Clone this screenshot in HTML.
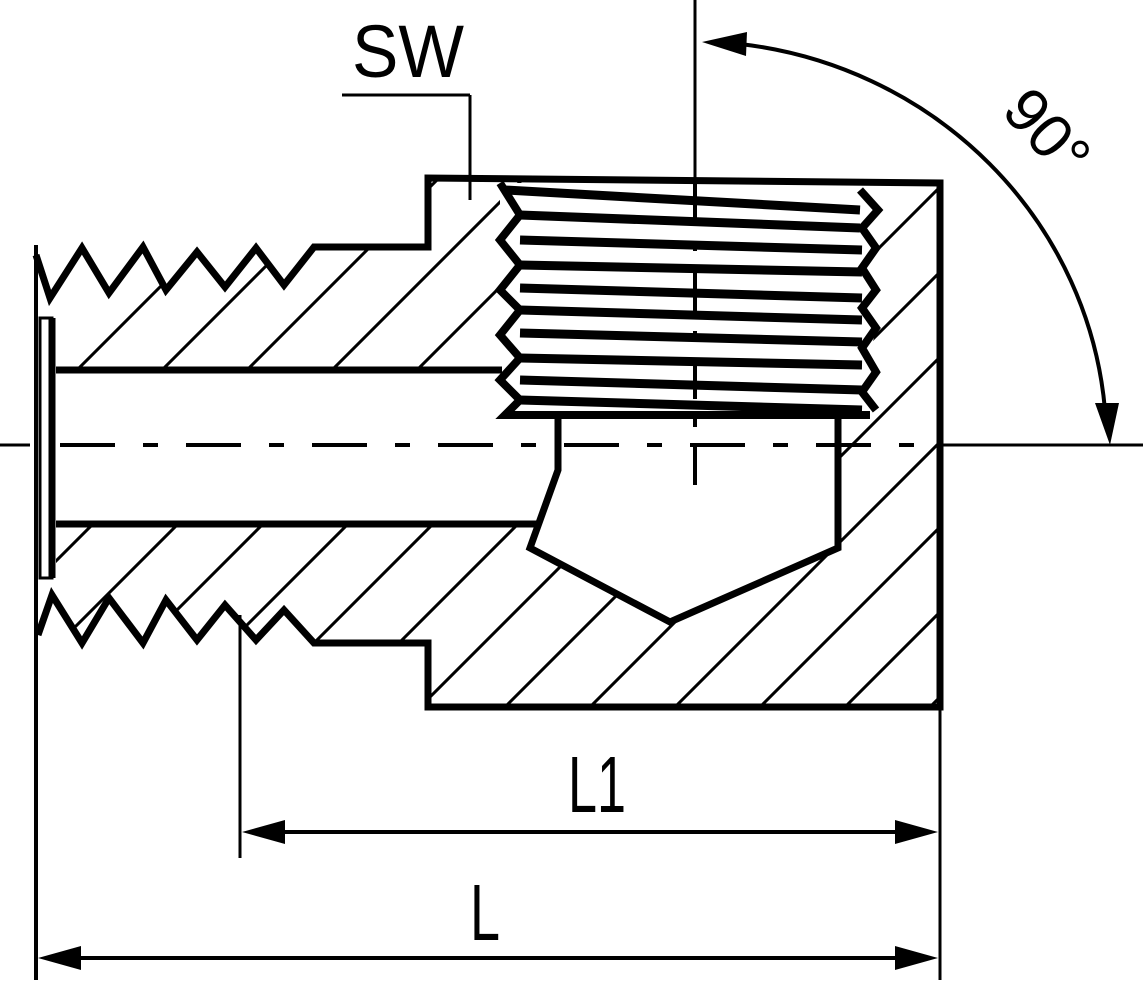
<!DOCTYPE html>
<html><head><meta charset="utf-8"><style>html,body{margin:0;padding:0;background:#fff;width:1143px;height:982px;overflow:hidden}svg{display:block}</style></head>
<body>
<svg width="1143" height="982" viewBox="0 0 1143 982" xmlns="http://www.w3.org/2000/svg">
<defs>
<mask id="m">
<polygon fill="#fff" points="31,245 50,298 82,248 109,293 143,247 166,290 197,252 225,287 256,248 284,285 314,247 428,247 428,178 940,183 940,707 428,707 428,643 314,643 284,610 256,640 225,605 197,640 166,600 143,643 109,598 82,643 52,595 35,640"/>
<rect x="30" y="370" width="530" height="154" fill="#000"/>
<rect x="30" y="300" width="26" height="290" fill="#000"/>
<polygon fill="#000" points="500,183 870,183 878,210 868,240 876,270 868,300 876,330 868,360 876,390 870,415 838,415 838,548 670,622 530,548 558,470 558,415 500,415"/>
</mask>
</defs>
<g mask="url(#m)" stroke="#000" stroke-width="3">
<line x1="0" y1="447" x2="447" y2="0"/><line x1="0" y1="532" x2="532" y2="0"/><line x1="0" y1="617" x2="617" y2="0"/><line x1="0" y1="702" x2="702" y2="0"/><line x1="0" y1="787" x2="787" y2="0"/><line x1="0" y1="872" x2="872" y2="0"/><line x1="0" y1="957" x2="957" y2="0"/><line x1="0" y1="1042" x2="1042" y2="0"/><line x1="0" y1="1127" x2="1127" y2="0"/><line x1="0" y1="1212" x2="1212" y2="0"/><line x1="0" y1="1297" x2="1297" y2="0"/><line x1="0" y1="1382" x2="1382" y2="0"/><line x1="0" y1="1467" x2="1467" y2="0"/><line x1="0" y1="1552" x2="1552" y2="0"/><line x1="0" y1="1637" x2="1637" y2="0"/>
</g>
<g fill="none" stroke="#000" stroke-width="7" stroke-linejoin="miter">
<polyline points="36,255 50,298 82,248 109,293 143,247 166,290 197,252 225,287 256,248 284,285 314,247 428,247 428,178 940,183 940,707 428,707 428,643 314,643 284,610 256,640 225,605 197,640 166,600 143,643 109,598 82,643 52,595 38,635"/>
<line x1="56" y1="370" x2="502" y2="370"/>
<line x1="56" y1="524" x2="540" y2="524"/>
<line x1="52" y1="318" x2="52" y2="578"/>
<polyline points="558,415 558,470 530,548 670,622 838,548 838,415"/>
<polyline points="500,183 520,215 500,240 520,265 500,290 520,310 500,335 520,358 500,380 520,400 505,415 870,415" stroke-width="8"/>
<polyline points="860,190 878,210 862,228 876,248 862,268 876,290 862,308 876,328 862,348 876,372 862,392 876,410" stroke-width="8"/>
<g stroke-width="9">
<line x1="520" y1="215" x2="860" y2="228"/><line x1="520" y1="240" x2="862" y2="250"/>
<line x1="520" y1="265" x2="862" y2="272"/><line x1="520" y1="288" x2="862" y2="298"/>
<line x1="520" y1="310" x2="862" y2="320"/><line x1="520" y1="333" x2="862" y2="342"/>
<line x1="520" y1="358" x2="862" y2="365"/><line x1="520" y1="380" x2="862" y2="390"/>
<line x1="520" y1="400" x2="862" y2="410"/>
<line x1="505" y1="190" x2="860" y2="210"/>
</g>
</g>
<g fill="none" stroke="#000" stroke-width="4">
<line x1="36" y1="245" x2="36" y2="980"/>
<rect x="40" y="318" width="12" height="260" stroke-width="3"/>
<line x1="940" y1="183" x2="940" y2="980" stroke-width="3"/>
<line x1="240" y1="615" x2="240" y2="858" stroke-width="3"/>
<line x1="342" y1="95" x2="470" y2="95" stroke-width="3"/>
<line x1="470" y1="95" x2="470" y2="200" stroke-width="3"/>
<line x1="0" y1="445" x2="30" y2="445" stroke-width="3"/>
<line x1="940" y1="445" x2="1143" y2="445" stroke-width="3"/>
<line x1="60" y1="445" x2="940" y2="445" stroke-dasharray="55,28,15,28" stroke-width="4"/>
<line x1="695" y1="0" x2="695" y2="183" stroke-width="3"/>
<line x1="695" y1="183" x2="695" y2="485" stroke-dasharray="40,20,8,20" stroke-width="4"/>
<line x1="280" y1="832" x2="900" y2="832"/>
<line x1="70" y1="958" x2="900" y2="958"/>
<path d="M740,44 A415,403 0 0 1 1105,410" stroke-width="4"/>
</g>
<g fill="#000">
<polygon points="242,832 285,820 285,844"/>
<polygon points="938,832 895,820 895,844"/>
<polygon points="38,958 81,946 81,970"/>
<polygon points="938,958 895,946 895,970"/>
<polygon points="702,42 747,32 746,56"/>
<polygon points="1110,445 1095,403 1119,403"/>
</g>
<g font-family="Liberation Sans, sans-serif" fill="#000">
<text x="352" y="77" font-size="74" textLength="112" lengthAdjust="spacingAndGlyphs">SW</text>
<text x="568" y="812" font-size="80" textLength="58" lengthAdjust="spacingAndGlyphs">L1</text>
<text x="470" y="940" font-size="80" textLength="30" lengthAdjust="spacingAndGlyphs">L</text>
<text x="0" y="0" font-size="62" transform="translate(1000,112) rotate(48)">90°</text>
</g>
</svg>
</body></html>
